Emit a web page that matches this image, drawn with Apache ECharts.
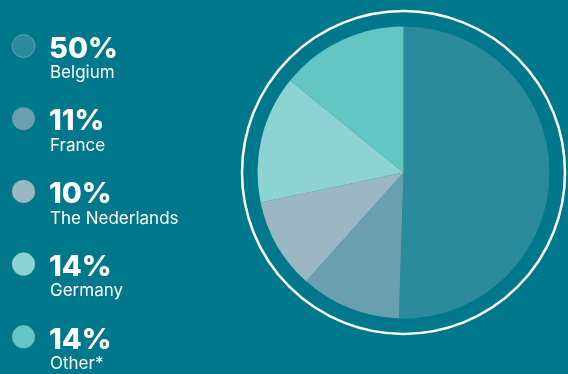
<!DOCTYPE html>
<html>
<head>
<meta charset="utf-8">
<script src="https://cdn.jsdelivr.net/npm/echarts@6/dist/echarts.min.js"></script>
<style>
  html, body { margin: 0; padding: 0; background: #00788c; }
  #chart { width: 568px; height: 374px; }
</style>
</head>
<body>
<div id="chart"></div>
<script>
// Share by country
const countries = ['Belgium', 'France', 'The Nederlands', 'Germany', 'Other*'];
const shares = [50, 11, 10, 14, 14];
const sliceColors = ['#2b8a9b', '#6a9fb0', '#9ab7c3', '#8ed3d4', '#64c6c4'];

const bg = '#00788c';
const center = [403.5, 172.5];
const pieRadius = 146;
const ringRadius = 161.5;

const legendTop = 46;
const legendStep = 72.7;

const graphics = [
  {
    type: 'circle',
    silent: true,
    shape: { cx: center[0], cy: center[1], r: ringRadius },
    style: { fill: 'none', stroke: '#ffffff', lineWidth: 2.5 }
  }
];

countries.forEach((name, i) => {
  const y = legendTop + i * legendStep;
  graphics.push({
    type: 'circle',
    silent: true,
    shape: { cx: 23.5, cy: y, r: 11.5 },
    style: {
      fill: sliceColors[i],
      stroke: i === 0 ? 'rgba(255,255,255,0.25)' : 'none',
      lineWidth: 1
    }
  });
  graphics.push({
    type: 'text',
    silent: true,
    x: 49,
    y: y + 3,
    style: {
      text: shares[i] + '%',
      fill: '#ffffff',
      font: '800 29px Inter, "Open Sans", sans-serif',
      verticalAlign: 'middle'
    }
  });
  graphics.push({
    type: 'text',
    silent: true,
    x: 50,
    y: y + 27,
    style: {
      text: name,
      fill: '#ffffff',
      font: '400 17px Inter, "Open Sans", sans-serif',
      verticalAlign: 'middle'
    }
  });
});

const chart = echarts.init(document.getElementById('chart'));
chart.setOption({
  backgroundColor: bg,
  animation: false,
  series: [
    {
      type: 'pie',
      center: center,
      radius: [0, pieRadius],
      startAngle: 90,
      clockwise: true,
      silent: true,
      label: { show: false },
      labelLine: { show: false },
      itemStyle: { borderWidth: 0 },
      data: countries.map((name, i) => ({
        name: name,
        value: shares[i],
        itemStyle: { color: sliceColors[i] }
      }))
    }
  ],
  graphic: graphics
});
</script>
</body>
</html>
